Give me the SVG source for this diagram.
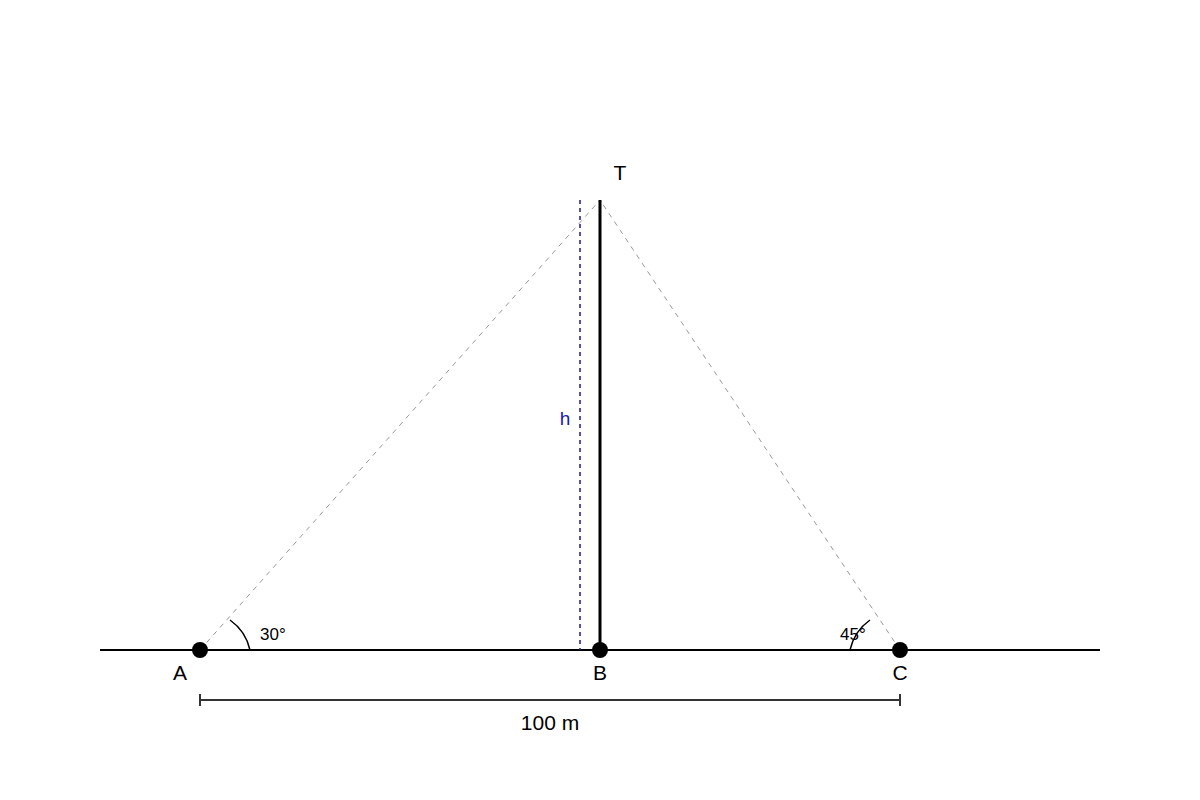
<svg xmlns="http://www.w3.org/2000/svg" width="1200" height="800" viewBox="0 0 1200 800">
<style>
  text { font-family: "Liberation Sans", Arial, sans-serif; fill: #000; }
  .lbl { font-size: 21px; text-anchor: middle; }
  .ang { font-size: 17px; }
  .sight { stroke: #999; stroke-width: 1; stroke-dasharray: 5,5; fill: none; }
  .pt { fill: #000; }
</style>
<rect width="1200" height="800" fill="#fff"/>
<g id="connectors">
  <line id="ground" x1="100" y1="650" x2="1100" y2="650" stroke="#000" stroke-width="2"/>
  <line id="sight-A" class="sight" x1="200" y1="650" x2="600" y2="200"/>
  <line id="sight-C" class="sight" x1="900" y1="650" x2="600" y2="200"/>
  <line id="height-h" x1="580" y1="200" x2="580" y2="650" stroke="#1a1a99" stroke-width="1.5" stroke-dasharray="4,4"/>
  <line id="tower" x1="600" y1="200" x2="600" y2="650" stroke="#000" stroke-width="3"/>
  <path id="arc-A" d="M 250 650 A 50 50 0 0 0 230 620" fill="none" stroke="#000" stroke-width="1.5"/>
  <path id="arc-C" d="M 850 650 A 50 50 0 0 1 870 620" fill="none" stroke="#000" stroke-width="1.5"/>
  <g id="dimension" stroke="#333" stroke-width="2">
    <line x1="200" y1="700" x2="900" y2="700"/>
    <line x1="200" y1="694" x2="200" y2="706"/>
    <line x1="900" y1="694" x2="900" y2="706"/>
  </g>
</g>
<g id="node-A"><circle class="pt" cx="200" cy="650" r="8"/><text class="lbl" x="180" y="680">A</text></g>
<g id="node-B"><circle class="pt" cx="600" cy="650" r="8"/><text class="lbl" x="600" y="680">B</text></g>
<g id="node-C"><circle class="pt" cx="900" cy="650" r="8"/><text class="lbl" x="900" y="680">C</text></g>
<g id="node-T"><text class="lbl" x="620" y="180">T</text></g>
<g id="labels">
  <text class="ang" x="260" y="640">30°</text>
  <text class="ang" x="840" y="640">45°</text>
  <text x="565" y="425" font-size="19" text-anchor="middle" style="fill:#1a1aaa">h</text>
  <text class="lbl" x="550" y="730">100 m</text>
</g>
</svg>
